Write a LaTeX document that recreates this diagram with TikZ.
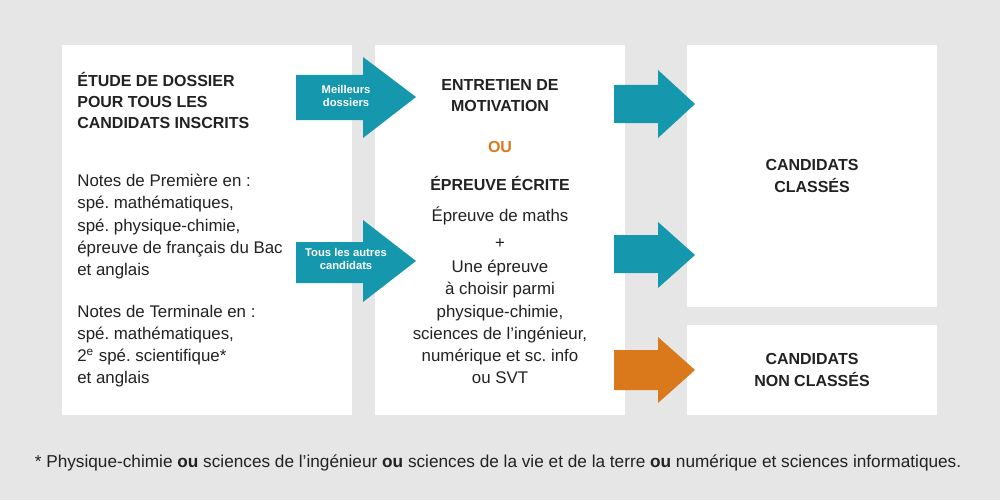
\documentclass[tikz,border=0pt]{standalone}
\usepackage{fontspec}
\setmainfont{Liberation Sans}
\frenchspacing
\definecolor{bg}{HTML}{E6E6E6}
\definecolor{teal}{HTML}{1597AE}
\definecolor{org}{HTML}{D9791C}
\definecolor{txt}{HTML}{222222}
\begin{document}
\begin{tikzpicture}[x=0.02cm,y=-0.02cm,
  box/.style={fill=white,draw=none},
  body/.style={font=\fontsize{9.6}{12.6}\selectfont,text=txt,inner sep=0pt},
  bold/.style={font=\bfseries\fontsize{9.1}{12}\selectfont,text=txt,inner sep=0pt},
  albl/.style={font=\bfseries\fontsize{6.4}{7.6}\selectfont,text=white,align=center,inner sep=0pt}]
\fill[bg] (0,0) rectangle (1000,500);
\useasboundingbox (0,0) rectangle (1000,500);
\fill[box] (62,45) rectangle (352,415);
\fill[box] (375,45) rectangle (625,415);
\fill[box] (687,45) rectangle (937,307);
\fill[box] (687,325) rectangle (937,415);
% arrows
\fill[teal] (296,75) -- (363,75) -- (363,57) -- (416,97) -- (363,138) -- (363,120) -- (296,120) -- cycle;
\fill[teal] (296,242) -- (363,242) -- (363,220) -- (416,261) -- (363,302) -- (363,283) -- (296,283) -- cycle;
\fill[teal] (614,85) -- (658,85) -- (658,70) -- (695,104) -- (658,138) -- (658,123) -- (614,123) -- cycle;
\fill[teal] (614,235) -- (658,235) -- (658,222) -- (695,255) -- (658,288) -- (658,273) -- (614,273) -- cycle;
\fill[org] (614,350) -- (658,350) -- (658,337) -- (695,370) -- (658,403) -- (658,390) -- (614,390) -- cycle;
\node[albl] (a1) at (346,96) {Meilleurs\\dossiers};
\node[albl] (a2) at (346,259) {Tous les autres\\candidats};
% left box
\node[bold,anchor=north west,align=left] (t1) at (77,72) {ÉTUDE DE DOSSIER\\POUR TOUS LES\\CANDIDATS INSCRITS};
\node[body,anchor=north west,align=left] (n1) at (77,174) {Notes de Première en :\\spé. mathématiques,\\spé. physique-chimie,\\épreuve de français du Bac\\et anglais};
\node[body,anchor=north west,align=left] (n2) at (77,305) {Notes de Terminale en :\\spé. mathématiques,\\2\textsuperscript{e} spé. scientifique*\\et anglais};
% middle box
\node[bold,align=center] (m1) at (500,96) {ENTRETIEN DE\\MOTIVATION};
\node[bold,text=org] (ou) at (500,147) {OU};
\node[bold] (m2) at (500,183) {ÉPREUVE ÉCRITE};
\node[body] (m3) at (500,216) {Épreuve de maths};
\node[body] (plus) at (500,244) {+};
\node[body,align=center,anchor=north] (m4) at (500,260) {Une épreuve\\à choisir parmi\\physique-chimie,\\sciences de l’ingénieur,\\numérique et sc. info\\ou SVT};
% right boxes
\node[bold,align=center] (r1) at (812,176) {CANDIDATS\\CLASSÉS};
\node[bold,align=center] (r2) at (812,370) {CANDIDATS\\NON CLASSÉS};
\node[body,font=\fontsize{9.8}{11}\selectfont] (fn) at (498,463) {* Physique-chimie \textbf{ou} sciences de l’ingénieur \textbf{ou} sciences de la vie et de la terre \textbf{ou} numérique et sciences informatiques.};
\end{tikzpicture}
\end{document}
